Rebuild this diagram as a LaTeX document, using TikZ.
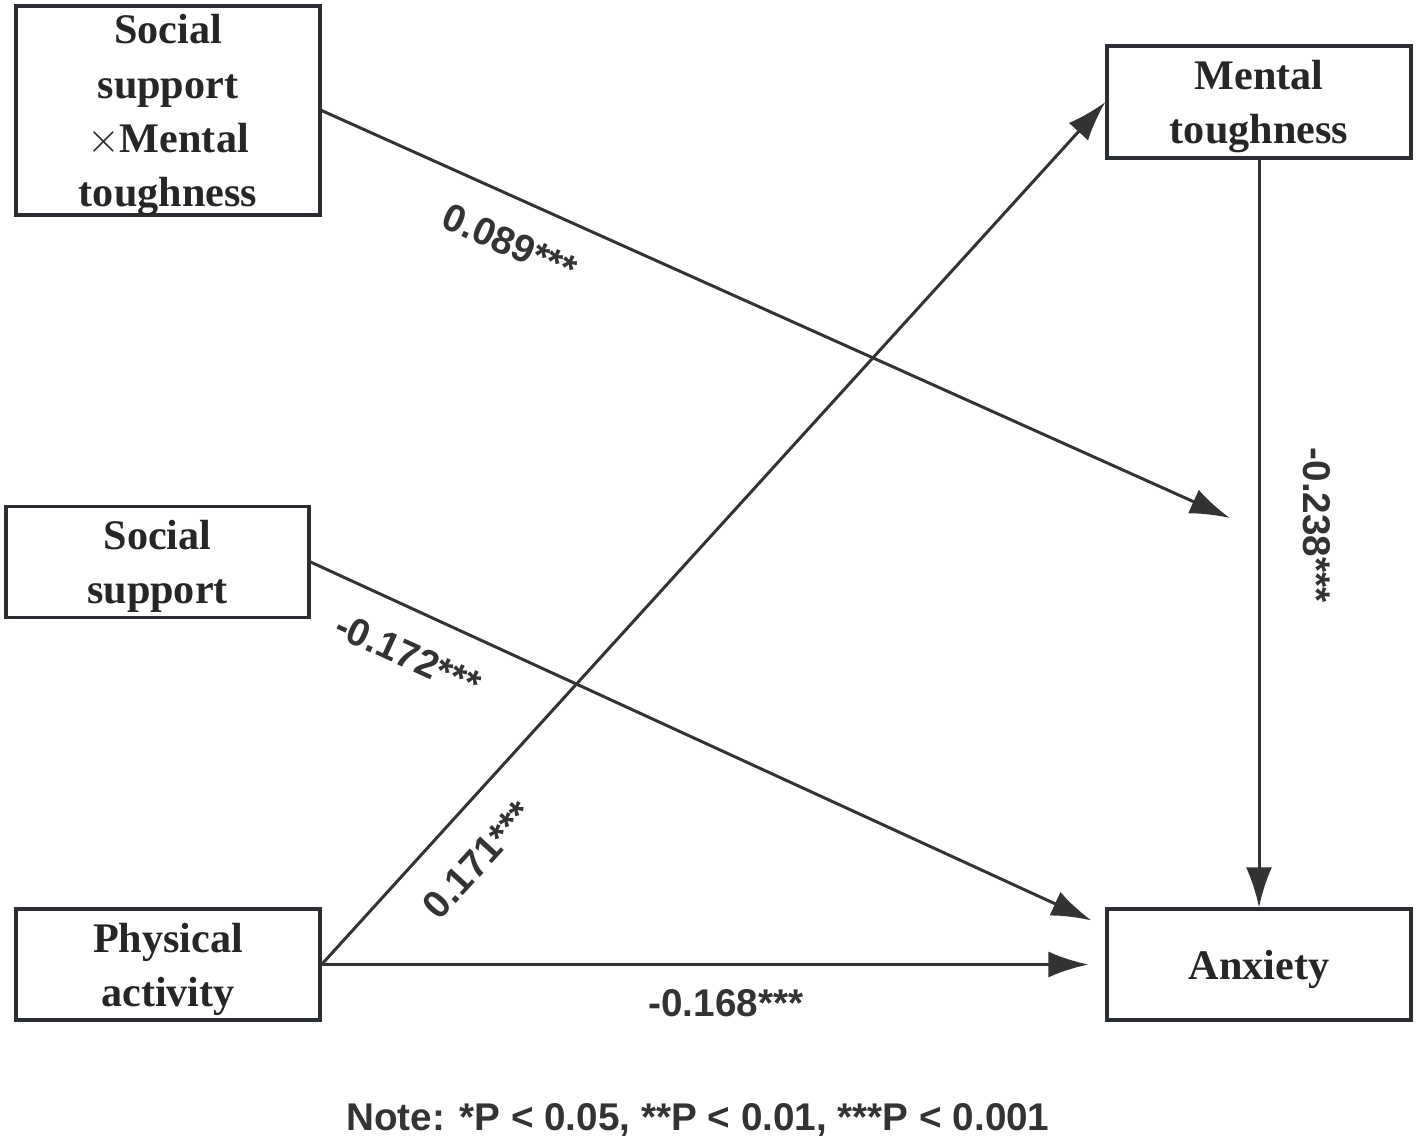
\documentclass[tikz,border=0pt]{standalone}
\usepackage{fontspec}
\setmainfont{Liberation Serif}
\newfontfamily\labelfont{Liberation Sans}
\usetikzlibrary{arrows.meta,positioning}

\definecolor{boxline}{HTML}{2B2F33}
\definecolor{pathline}{HTML}{333333}

\begin{document}
\begin{tikzpicture}[
  var/.style={draw=boxline,line width=0.9pt,minimum width=3.04cm,minimum height=1.11cm,
    align=center,inner sep=1pt,font=\fontsize{12}{15.4}\selectfont\bfseries,text=black!85,
    text depth=0pt},
  path/.style={-{Latex[length=4mm,width=2.6mm]},line width=0.85pt,draw=pathline},
  coef/.style={font=\labelfont\fontsize{11}{13}\selectfont\bfseries,text=black!80,inner sep=0pt}]

  \useasboundingbox (0,0) rectangle (14.17,-11.42);

  \node[var,minimum height=2.09cm] (inter) at (1.68,-1.105) {Social\\support\\$\times$Mental\\toughness};
  \node[var,minimum width=3.03cm] (soc) at (1.575,-5.62) {Social\\support};
  \node[var] (phys) at (1.68,-9.645) {Physical\\activity};
  \node[var,minimum height=1.12cm] (ment) at (12.59,-1.02) {Mental\\toughness};
  \node[var,text depth=,execute at begin node={\rule{0pt}{11pt}}] (anx) at (12.59,-9.645) {Anxiety};

  \coordinate (mod) at (12.30,-5.18);

  \draw[path] (inter.east) -- (mod);
  \draw[path] (soc.east) -- ([shift={(-0.14,-0.13)}]anx.north west);
  \draw[path] (phys.east) -- (ment.west);
  \draw[path,shorten >=0.17cm] (phys.east) -- (anx.west);
  \draw[path] (ment.south) -- (anx.north);

  \node[coef,rotate=-24] (c1) at (5.10,-2.43) {0.089***};
  \node[coef,rotate=-24.5] (c2) at (4.08,-6.55) {-0.172***};
  \node[coef,rotate=47.5] (c3) at (4.78,-8.60) {0.171***};
  \node[coef] (c4) at (7.26,-10.03) {-0.168***};
  \node[coef,rotate=-90] (c5) at (13.17,-5.25) {-0.238***};

  \node[coef] (note) at (6.98,-11.20) {Note: *P < 0.05, **P < 0.01, ***P < 0.001};
\end{tikzpicture}
\end{document}
